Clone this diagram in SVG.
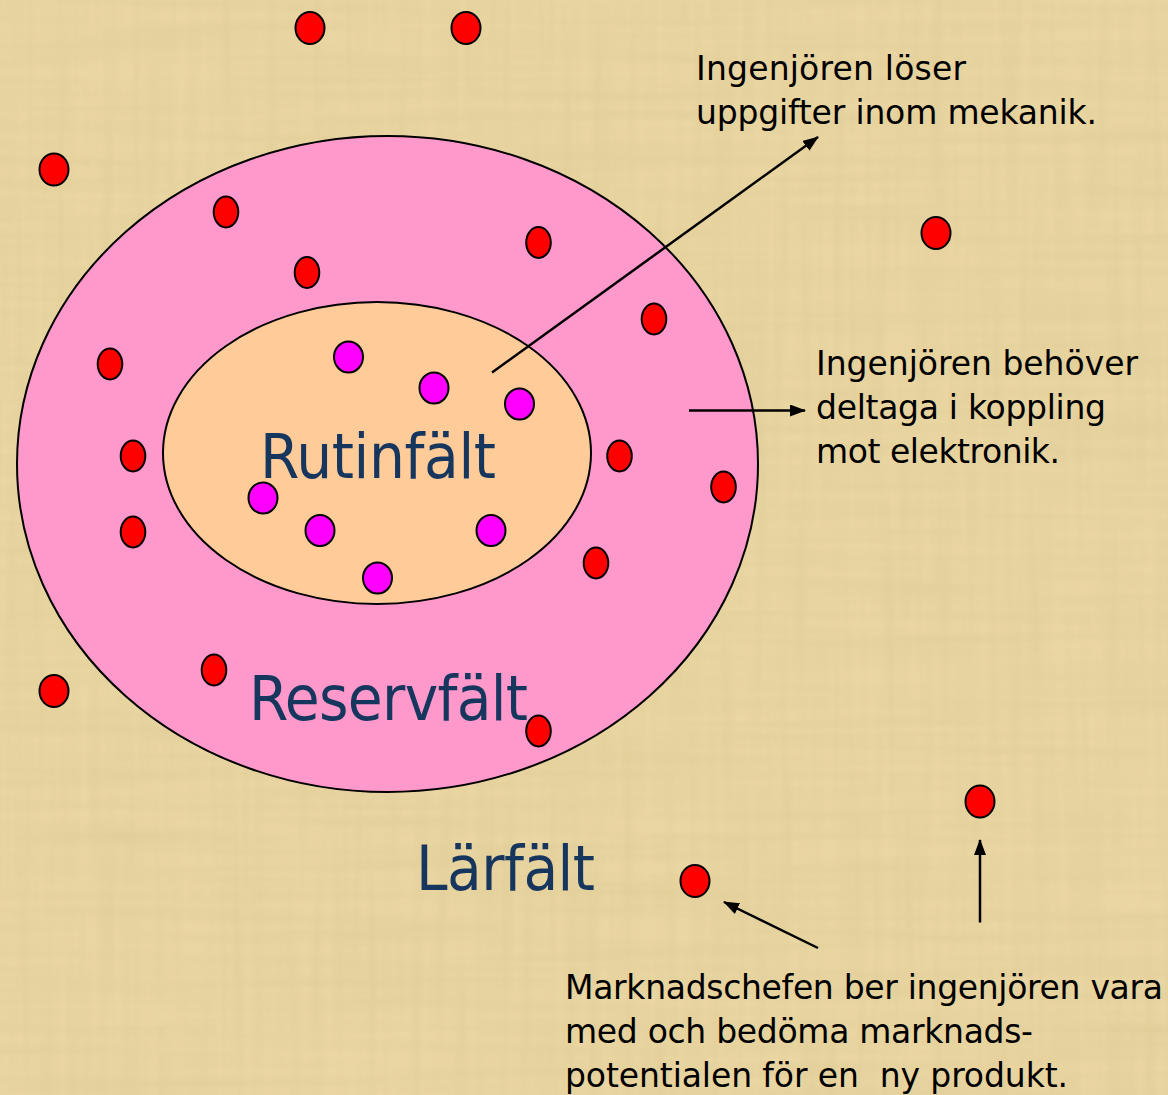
<svg xmlns="http://www.w3.org/2000/svg" width="1168" height="1095" viewBox="0 0 1168 1095">
<defs>
<filter id="paper" x="0" y="0" width="100%" height="100%">
<feTurbulence type="fractalNoise" baseFrequency="0.004 0.09" numOctaves="2" seed="3" result="t1"/>
<feTurbulence type="fractalNoise" baseFrequency="0.09 0.004" numOctaves="2" seed="7" result="t2"/>
<feBlend in="t1" in2="t2" mode="multiply" result="t"/>
<feColorMatrix in="t" type="matrix" values="0 0 0 0 0.55  0 0 0 0 0.45  0 0 0 0 0.2  -1.2 0 0 0 0.75"/>
</filter>
<marker id="ah" viewBox="0 0 16 12" refX="15" refY="6" markerWidth="16" markerHeight="12" markerUnits="userSpaceOnUse" orient="auto">
<path d="M0,0 L16,6 L0,12 z" fill="#000"/>
</marker>
</defs>
<style>
.big{font-family:"DejaVu Sans Condensed","DejaVu Sans",sans-serif;font-size:63px;fill:#17365D}
.sm{font-family:"DejaVu Sans",sans-serif;font-size:33px;fill:#000}
.red{fill:#FF0000;stroke:#000;stroke-width:2}
.mag{fill:#FF00FF;stroke:#000;stroke-width:2}
.arr{stroke:#000;stroke-width:2.5;fill:none;marker-end:url(#ah)}
</style>
<rect width="1168" height="1095" fill="#EAD6A2"/>
<rect width="1168" height="1095" filter="url(#paper)" opacity="0.35"/>
<g id="reservfalt">
<ellipse cx="387.5" cy="464" rx="370.5" ry="328" fill="#FF99CC" stroke="#000" stroke-width="2"/>
</g>
<g id="rutinfalt">
<ellipse cx="377" cy="453" rx="214" ry="151" fill="#FFCC99" stroke="#000" stroke-width="2"/>
</g>
<g id="dots-red">
<ellipse class="red" cx="310" cy="28" rx="14.5" ry="16"/>
<ellipse class="red" cx="466" cy="28" rx="14.5" ry="16"/>
<ellipse class="red" cx="54" cy="169.5" rx="14.5" ry="16"/>
<ellipse class="red" cx="936" cy="233" rx="14.5" ry="16"/>
<ellipse class="red" cx="54" cy="691" rx="14.5" ry="16"/>
<ellipse class="red" cx="980" cy="801.5" rx="14.5" ry="16"/>
<ellipse class="red" cx="695" cy="881" rx="14.5" ry="16"/>
<ellipse class="red" cx="226" cy="212" rx="12.3" ry="15.5"/>
<ellipse class="red" cx="538.5" cy="242.5" rx="12.3" ry="15.5"/>
<ellipse class="red" cx="307" cy="272.5" rx="12.3" ry="15.5"/>
<ellipse class="red" cx="654" cy="319" rx="12.3" ry="15.5"/>
<ellipse class="red" cx="110" cy="364" rx="12.3" ry="15.5"/>
<ellipse class="red" cx="133" cy="456" rx="12.3" ry="15.5"/>
<ellipse class="red" cx="619.5" cy="456" rx="12.3" ry="15.5"/>
<ellipse class="red" cx="723.5" cy="487" rx="12.3" ry="15.5"/>
<ellipse class="red" cx="133" cy="532" rx="12.3" ry="15.5"/>
<ellipse class="red" cx="596" cy="563" rx="12.3" ry="15.5"/>
<ellipse class="red" cx="214" cy="670" rx="12.3" ry="15.5"/>
<ellipse class="red" cx="538.5" cy="731" rx="12.3" ry="15.5"/>
</g>
<g id="dots-magenta">
<ellipse class="mag" cx="348.5" cy="357" rx="14.5" ry="15.5"/>
<ellipse class="mag" cx="434" cy="388" rx="14.5" ry="15.5"/>
<ellipse class="mag" cx="519.5" cy="404" rx="14.5" ry="15.5"/>
<ellipse class="mag" cx="263" cy="498" rx="14.5" ry="15.5"/>
<ellipse class="mag" cx="320" cy="530.5" rx="14.5" ry="15.5"/>
<ellipse class="mag" cx="491" cy="530.5" rx="14.5" ry="15.5"/>
<ellipse class="mag" cx="377.5" cy="578" rx="14.5" ry="15.5"/>
</g>
<g id="labels">
<text class="big" x="260" y="478" textLength="236">Rutinfält</text>
<text class="big" x="249" y="720" textLength="279">Reservfält</text>
<text class="big" x="416" y="890" textLength="179">Lärfält</text>
</g>
<g id="note-mekanik">
<text class="sm" x="696" y="80" textLength="270">Ingenjören löser</text>
<text class="sm" x="696" y="124" textLength="401">uppgifter inom mekanik.</text>
</g>
<g id="note-elektronik">
<text class="sm" x="816" y="375" textLength="322">Ingenjören behöver</text>
<text class="sm" x="816" y="419" textLength="290">deltaga i koppling</text>
<text class="sm" x="816" y="463" textLength="244">mot elektronik.</text>
</g>
<g id="note-marknad">
<text class="sm" x="565" y="999" textLength="598">Marknadschefen ber ingenjören vara</text>
<text class="sm" x="565" y="1043" textLength="468">med och bedöma marknads-</text>
<text class="sm" x="565" y="1087" textLength="503" xml:space="preserve">potentialen för en  ny produkt.</text>
</g>
<g id="connectors">
<line class="arr" x1="492" y1="372.5" x2="818" y2="137"/>
<line class="arr" x1="689" y1="410.5" x2="805" y2="410.5"/>
<line class="arr" x1="818" y1="948" x2="724" y2="902"/>
<line class="arr" x1="980" y1="922.5" x2="980" y2="840"/>
</g>
</svg>
